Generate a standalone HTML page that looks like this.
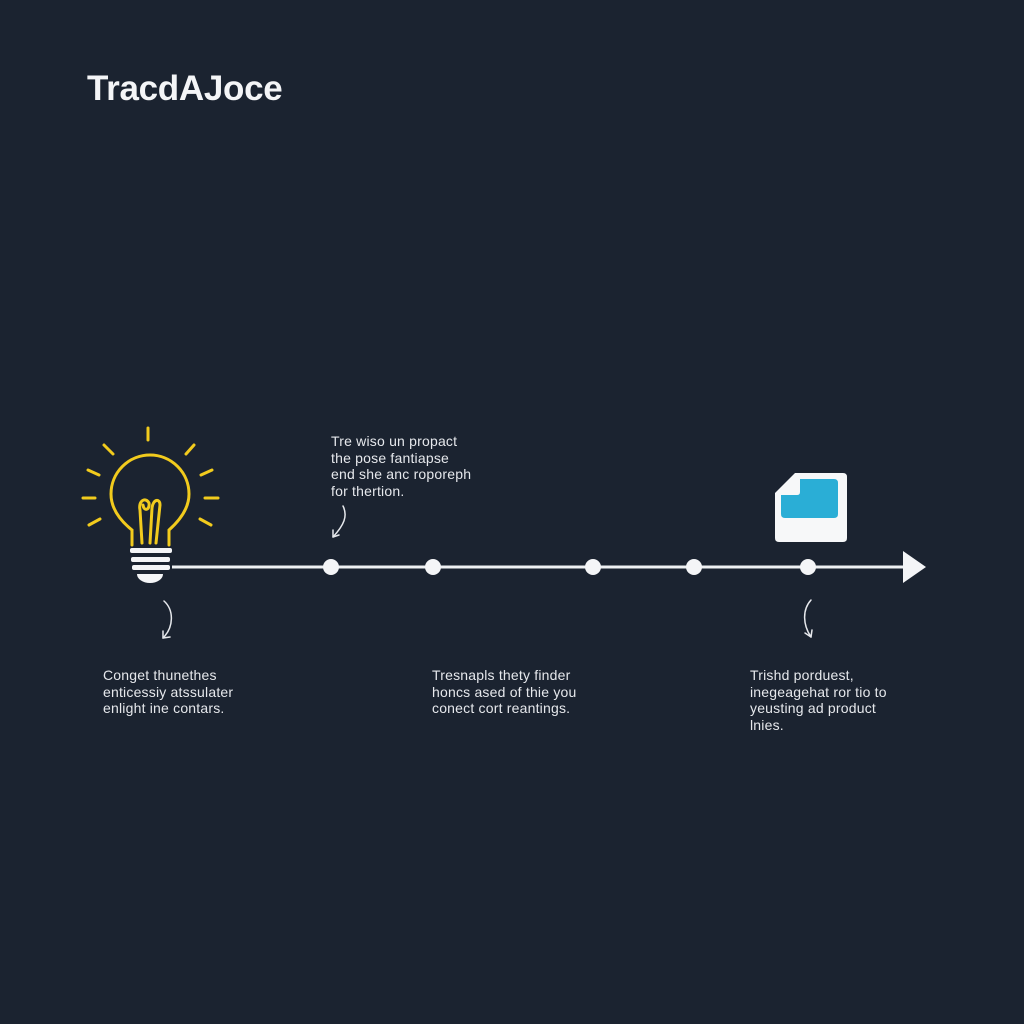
<!DOCTYPE html>
<html><head><meta charset="utf-8"><style>
html,body{margin:0;padding:0;background:#1b2330;}
body{width:1024px;height:1024px;position:relative;overflow:hidden;font-family:"Liberation Sans",sans-serif;}
.t{position:absolute;color:#e6e8ec;font-size:14px;letter-spacing:0.2px;line-height:16.5px;white-space:nowrap;}
.title{position:absolute;left:87px;top:69px;color:#f4f5f7;font-size:35px;font-weight:bold;letter-spacing:-0.3px;}
</style></head><body>
<div class="title">TracdAJoce</div>
<svg width="1024" height="1024" style="position:absolute;left:0;top:0">
<g stroke="#f2cb1d" stroke-width="3" stroke-linecap="round" fill="none">
<line x1="148" y1="428" x2="148" y2="440"/>
<line x1="104" y1="445" x2="113" y2="454"/>
<line x1="194" y1="445" x2="186" y2="454"/>
<line x1="88" y1="470" x2="99" y2="475"/>
<line x1="212" y1="470" x2="201" y2="475"/>
<line x1="83" y1="498" x2="95" y2="498"/>
<line x1="205" y1="498" x2="218" y2="498"/>
<line x1="89" y1="525" x2="100" y2="519"/>
<line x1="211" y1="525" x2="200" y2="519"/>
<path d="M132 545 L132 530 C122 522 111 510 111 494 A39 39 0 0 1 189 494 C189 510 178 522 169 530 L169 545"/>
<path d="M142 543 L140 510 C138 500 146 497 149 503 C150 510 144 512 143 505 M150 543 L152 508 C153 499 160 498 160 505 L156 543"/>
</g>
<g fill="#f4f5f7">
<rect x="130" y="548" width="42" height="5" rx="2"/>
<rect x="131" y="557" width="39" height="5" rx="2"/>
<rect x="132" y="565" width="38" height="5" rx="2"/>
<path d="M137 574 L163 574 A13 9 0 0 1 137 574 Z"/>
</g>
<line x1="172" y1="567" x2="905" y2="567" stroke="#eef0f2" stroke-width="3"/>
<polygon points="903,551 926,567 903,583" fill="#f4f5f7"/>
<g fill="#f4f5f7">
<circle cx="331" cy="567" r="8"/><circle cx="433" cy="567" r="8"/><circle cx="593" cy="567" r="8"/><circle cx="694" cy="567" r="8"/><circle cx="808" cy="567" r="8"/>
</g>
<path d="M775 493 L795 473 L843 473 Q847 473 847 477 L847 538 Q847 542 843 542 L779 542 Q775 542 775 538 Z" fill="#f7f8f9"/>
<path d="M781 495 L797 495 Q800 495 800 492 L800 479 L834 479 Q838 479 838 483 L838 514 Q838 518 834 518 L785 518 Q781 518 781 514 Z" fill="#2aaed6"/>
<g stroke="#e6e8ec" stroke-width="1.5" fill="none" stroke-linecap="round">
<path d="M343 506 C348 516 344 525 333 537"/><path d="M333 537 L333 530 M333 537 L339 535"/>
<path d="M164 601 C174 610 174 627 163 638"/><path d="M163 638 L163 631 M163 638 L170 637"/>
<path d="M811 600 C802 610 803 625 811 637"/><path d="M811 637 L805 633 M811 637 L812 630"/>
</g>
</svg>
<div class="t" style="left:331px;top:433px">Tre wiso un propact<br>the pose fantiapse<br>end she anc roporeph<br>for thertion.</div>
<div class="t" style="left:103px;top:667px">Conget thunethes<br>enticessiy atssulater<br>enlight ine contars.</div>
<div class="t" style="left:432px;top:667px">Tresnapls thety finder<br>honcs ased of thie you<br>conect cort reantings.</div>
<div class="t" style="left:750px;top:667px">Trishd porduest,<br>inegeagehat ror tio to<br>yeusting ad product<br>lnies.</div>
</body></html>
